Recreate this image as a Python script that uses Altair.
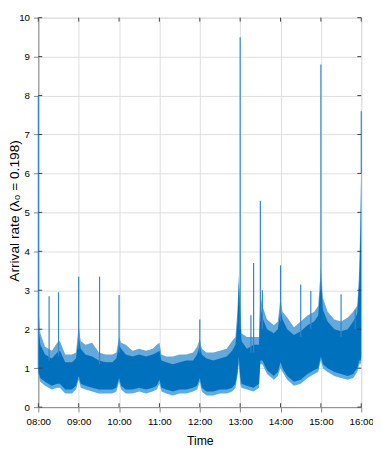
import altair as alt
import pandas as pd

# minutes after 08:00 and envelope of the dense series
minutes = [0, 3, 10, 20, 28, 32, 40, 50, 56, 60, 63, 70, 80, 90, 100, 110, 116, 120, 123,
           130, 140, 150, 160, 170, 176, 180, 183, 190, 200, 210, 220, 230, 236, 240, 243,
           250, 260, 270, 280, 288, 293, 296, 298, 300, 302, 310, 320, 328, 330, 333, 340,
           350, 356, 360, 363, 370, 380, 390, 400, 410, 416, 420, 423, 430, 440, 450, 460,
           468, 474, 477, 479, 480]
dark_lo = [0.9, 0.75, 0.65, 0.55, 0.6, 0.6, 0.45, 0.45, 0.55, 0.8, 0.6, 0.55, 0.5, 0.45, 0.45, 0.45, 0.5, 0.75, 0.55,
           0.45, 0.45, 0.5, 0.45, 0.5, 0.55, 0.7, 0.5, 0.45, 0.4, 0.45, 0.45, 0.5, 0.55, 0.75, 0.5,
           0.4, 0.4, 0.45, 0.45, 0.5, 0.6, 0.9, 1.3, 0.8, 0.6, 0.55, 0.5, 0.6, 1.2, 1.2, 0.95,
           0.8, 0.9, 1.15, 1.0, 0.8, 0.65, 0.7, 0.85, 0.95, 1.0, 1.3, 1.1, 1.0, 0.9, 0.85, 0.8,
           0.85, 1.0, 1.2, 1.2, 1.3]
dark_hi = [2.1, 1.6, 1.35, 1.25, 1.4, 1.45, 1.15, 1.15, 1.25, 1.8, 1.5, 1.35, 1.3, 1.2, 1.15, 1.15, 1.25, 1.6, 1.5,
           1.35, 1.3, 1.35, 1.3, 1.35, 1.4, 1.45, 1.2, 1.15, 1.1, 1.15, 1.2, 1.2, 1.35, 1.6, 1.35,
           1.25, 1.2, 1.25, 1.3, 1.45, 1.6, 2.2, 3.2, 2.4, 1.7, 1.5, 1.6, 1.6, 2.6, 2.3, 2.0,
           1.9, 2.0, 2.5, 2.25, 2.0, 1.85, 1.95, 2.1, 2.2, 2.35, 3.3, 2.5, 2.2, 2.0, 1.95, 2.0,
           2.2, 2.4, 3.2, 4.6, 6.4]
light_lo = [0.8, 0.65, 0.55, 0.45, 0.5, 0.5, 0.35, 0.35, 0.45, 0.7, 0.5, 0.45, 0.4, 0.35, 0.35, 0.35, 0.4, 0.65, 0.45,
            0.35, 0.35, 0.4, 0.35, 0.4, 0.45, 0.6, 0.4, 0.35, 0.3, 0.35, 0.35, 0.4, 0.45, 0.65, 0.4,
            0.3, 0.3, 0.35, 0.35, 0.4, 0.5, 0.8, 1.1, 0.6, 0.5, 0.45, 0.4, 0.5, 1.1, 1.1, 0.85,
            0.7, 0.8, 1.0, 0.9, 0.7, 0.55, 0.6, 0.75, 0.85, 0.9, 1.2, 1.0, 0.9, 0.8, 0.75, 0.7,
            0.75, 0.9, 1.1, 1.1, 1.2]
light_hi = [2.6, 1.9, 1.55, 1.45, 1.65, 1.7, 1.35, 1.35, 1.4, 2.1, 1.7, 1.6, 1.65, 1.4, 1.35, 1.35, 1.4, 1.8, 1.65,
            1.6, 1.45, 1.5, 1.45, 1.5, 1.6, 1.65, 1.35, 1.3, 1.3, 1.35, 1.35, 1.4, 1.55, 1.75, 1.5,
            1.4, 1.4, 1.45, 1.5, 1.7, 1.8, 2.5, 3.4, 2.7, 1.9, 1.8, 1.8, 1.8, 2.9, 2.6, 2.25,
            2.1, 2.2, 2.8, 2.45, 2.3, 2.05, 2.2, 2.35, 2.45, 2.6, 3.6, 2.8, 2.45, 2.25, 2.2, 2.3,
            2.45, 2.6, 3.5, 5.2, 6.6]

# isolated spikes: minute after 08:00, peak, base
spike_min = [0, 16, 30, 60, 91, 120, 240, 300, 316, 320, 330, 333, 360, 390, 405, 420, 450, 471, 480]
spike_peak = [8.0, 2.85, 2.95, 3.35, 3.35, 2.88, 2.25, 9.5, 2.36, 3.7, 5.3, 3.0, 3.64, 3.15, 2.98, 8.8, 2.9, 2.5, 7.6]
spike_base = [1.0, 1.2, 1.3, 1.5, 1.1, 1.4, 1.4, 2.0, 1.4, 1.4, 2.2, 2.0, 2.2, 1.8, 2.0, 3.0, 1.8, 2.0, 6.0]

hour_ticks = [8, 9, 10, 11, 12, 13, 14, 15, 16]
y_ticks = [0, 1, 2, 3, 4, 5, 6, 7, 8, 9, 10]

W, H = 330, 398
BLUE = "#0072BD"
LIGHT = "#62a9dd"
AX = "#404040"
FONT = "Liberation Sans"

band = pd.DataFrame({"h": [8 + m / 60 for m in minutes], "dlo": dark_lo, "dhi": dark_hi,
                     "llo": light_lo, "lhi": light_hi})
spikes = pd.DataFrame({"h": [8 + m / 60 for m in spike_min], "peak": spike_peak, "base": spike_base})
hdf = pd.DataFrame({"h": hour_ticks})
ydf = pd.DataFrame({"v": y_ticks})

xscale = alt.Scale(domain=[8, 16], nice=False, zero=False)
yscale = alt.Scale(domain=[0, 10], nice=False)

xaxis = alt.Axis(values=hour_ticks, labelExpr="(datum.value < 10 ? '0' : '') + datum.value + ':00'",
                 title="Time", labelPadding=5, titlePadding=8, labelFlush=False,
                 titleFont=FONT, titleFontSize=12.5, titleFontWeight="normal")
yaxis = alt.Axis(values=y_ticks, title="Arrival rate (λ₀ = 0.198)", labelPadding=4,
                 titleFont=FONT, titleFontSize=14, titleFontWeight="normal",
                 titleX=-24, titleY=H / 2 - 2,
                 titleAngle=-90, titleAlign="center", titleBaseline="middle")

X = alt.X("h:Q", scale=xscale, axis=xaxis)

base = alt.Chart(band)
light = base.mark_area(color=LIGHT, interpolate="linear").encode(
    x=X, y=alt.Y("llo:Q", scale=yscale, axis=yaxis), y2="lhi:Q",
)
dark = base.mark_area(color=BLUE, interpolate="linear").encode(
    x=X, y=alt.Y("dlo:Q", scale=yscale, axis=yaxis), y2="dhi:Q"
)
spk = alt.Chart(spikes).mark_rule(color="#2e86cc", strokeWidth=1.2).encode(
    x=X, y=alt.Y("base:Q", scale=yscale, axis=yaxis), y2="peak:Q"
)
tb = alt.Chart(hdf).mark_rule(color=AX).encode(x=X, y=alt.value(H), y2=alt.value(H - 4))
tt = alt.Chart(hdf).mark_rule(color=AX).encode(x=X, y=alt.value(0), y2=alt.value(4))
tl = alt.Chart(ydf).mark_rule(color=AX).encode(y=alt.Y("v:Q", scale=yscale, axis=yaxis), x=alt.value(0), x2=alt.value(4))
tr = alt.Chart(ydf).mark_rule(color=AX).encode(y=alt.Y("v:Q", scale=yscale, axis=yaxis), x=alt.value(W - 4), x2=alt.value(W))

chart = alt.layer(light, dark, spk, tb, tt, tl, tr).properties(
    width=W, height=H,
    autosize=alt.AutoSizeParams(type="none"),
    padding={"left": 31, "top": 5, "right": 12, "bottom": 42},
).configure_view(stroke=AX, strokeWidth=1).configure_axis(
    ticks=False, tickSize=0, grid=True, gridColor="#e6e6e6", domainColor=AX,
    labelFont=FONT, labelFontSize=11.5, labelColor="#262626",
    titleColor="#262626",
).configure(background="white")

chart.save("out.html", embed_options={"renderer": "svg", "actions": False})
